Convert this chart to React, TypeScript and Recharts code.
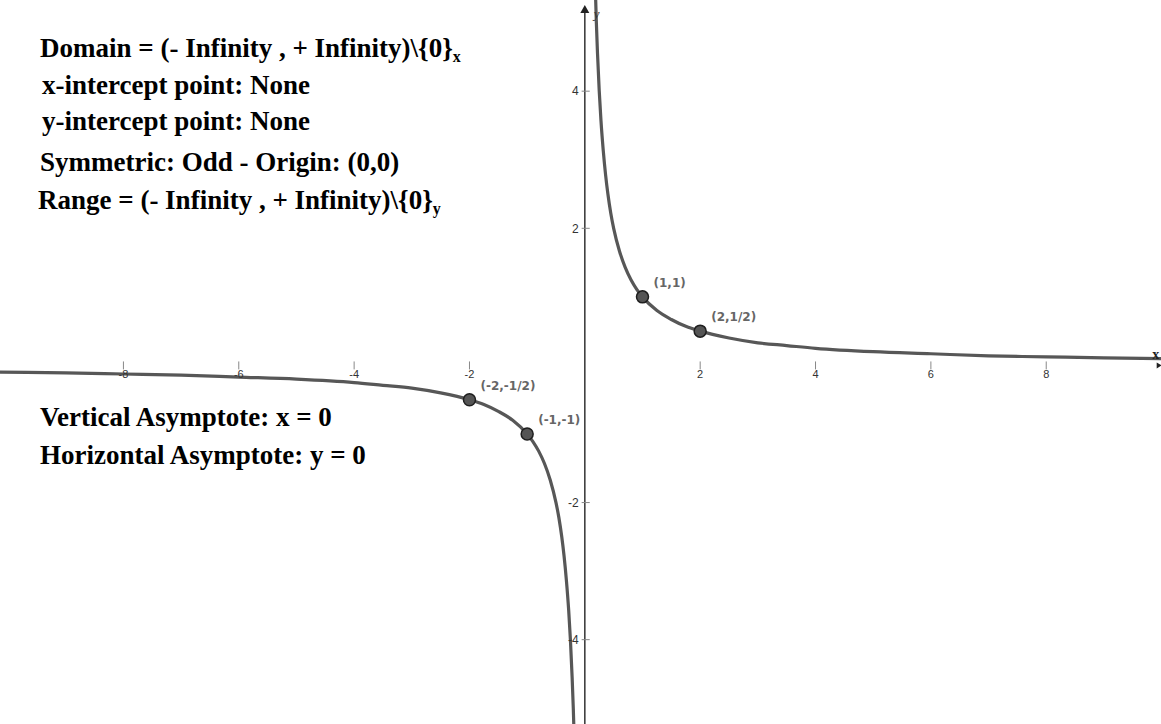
import React from "react";
import { ComposedChart, Line, XAxis, YAxis, ReferenceLine, ReferenceDot } from "recharts";

const rightX = [0.18, 0.2, 0.22, 0.25, 0.28, 0.32, 0.36, 0.4, 0.45, 0.5, 0.6, 0.7, 0.8, 0.9, 1, 1.25, 1.5, 1.75, 2, 2.5, 3, 3.5, 4, 5, 6, 7, 8, 9, 10];
const rightY = [5.56, 5, 4.55, 4, 3.57, 3.13, 2.78, 2.5, 2.22, 2, 1.67, 1.43, 1.25, 1.11, 1, 0.8, 0.67, 0.57, 0.5, 0.4, 0.33, 0.29, 0.25, 0.2, 0.17, 0.14, 0.125, 0.11, 0.1];
const leftX = [-10.2, -9, -8, -7, -6, -5, -4, -3.5, -3, -2.5, -2, -1.75, -1.5, -1.25, -1, -0.9, -0.8, -0.7, -0.6, -0.5, -0.45, -0.4, -0.36, -0.32, -0.28, -0.25, -0.22, -0.2, -0.18];
const leftY = [-0.098, -0.11, -0.125, -0.14, -0.17, -0.2, -0.25, -0.29, -0.33, -0.4, -0.5, -0.57, -0.67, -0.8, -1, -1.11, -1.25, -1.43, -1.67, -2, -2.22, -2.5, -2.78, -3.13, -3.57, -4, -4.55, -5, -5.56];

const markX = [1, 2, -2, -1];
const markY = [1, 0.5, -0.5, -1];
const markLabels = ["(1,1)", "(2,1/2)", "(-2,-1/2)", "(-1,-1)"];

const xTicks = [-8, -6, -4, -2, 2, 4, 6, 8];
const yTicks = [-4, -2, 2, 4];

const xDomain: [number, number] = [-10.14, 9.99];
const yDomain: [number, number] = [-5.23, 5.33];

const notes = [
  "x-intercept point: None",
  "y-intercept point: None",
  "Symmetric: Odd - Origin: (0,0)",
];

const rightBranch = rightX.map((x, i) => ({ x, y: rightY[i] }));
const leftBranch = leftX.map((x, i) => ({ x, y: leftY[i] }));

const W = 1161;
const H = 724;
const CURVE = "#575757";
const serif = "'Liberation Serif', 'Times New Roman', serif";

const PointLabel = ({ viewBox, value }: any) => {
  const cx = viewBox.x + viewBox.width / 2;
  const cy = viewBox.y + viewBox.height / 2;
  return (
    <text x={cx + 11} y={cy - 10} fill="#666" fontSize={12} fontWeight="bold" fontFamily="'DejaVu Sans', sans-serif">
      {value}
    </text>
  );
};

const YArrow = ({ cx, cy }: any) => (
  <g>
    <path d={`M${cx},${cy - 4} L${cx - 4.5},${cy + 4} L${cx + 4.5},${cy + 4} Z`} fill="#222" />
    <text x={cx + 9} y={cy + 9} fontSize={13} fontStyle="italic" fontFamily={serif} fill="#333">y</text>
  </g>
);

const XArrow = ({ cx, cy }: any) => (
  <g>
    <path d={`M${cx + 3},${cy} L${cx - 2},${cy - 3} L${cx - 2},${cy + 3} Z`} fill="#222" />
    <text x={cx - 3} y={cy - 6} fontSize={14} fontWeight="bold" textAnchor="middle" fontFamily={serif} fill="#222">x</text>
  </g>
);

export default function App() {
  return (
    <div style={{ position: "absolute", left: 0, top: 0, width: W, height: H, background: "#fff" }}>
      <ComposedChart width={W} height={H} margin={{ top: 0, right: 0, bottom: 0, left: 0 }}>
        <XAxis type="number" dataKey="x" domain={xDomain} allowDataOverflow hide />
        <YAxis type="number" dataKey="y" domain={yDomain} allowDataOverflow hide />

        {/* vertical axis with ticks */}
        <ReferenceLine
          segment={[{ x: 0, y: yDomain[0] }, { x: 0, y: 5.2 }]}
          stroke="#333"
          strokeWidth={1.5}
        />
        {yTicks.map((t) => (
          <ReferenceLine
            key={`yt${t}`}
            segment={[{ x: -0.055, y: t }, { x: 0.085, y: t }]}
            stroke="#888"
            strokeWidth={1}
            label={{ value: String(t), position: "left", offset: 3, fill: "#333", fontSize: 12, fontFamily: "'Liberation Sans', sans-serif" }}
          />
        ))}
        {xTicks.map((t) => (
          <ReferenceLine
            key={`xt${t}`}
            segment={[{ x: t, y: -0.058 }, { x: t, y: 0.058 }]}
            stroke="#888"
            strokeWidth={1}
            label={{ value: String(t), position: "bottom", offset: 1, fill: "#333", fontSize: 11, fontFamily: "'Liberation Sans', sans-serif" }}
          />
        ))}
        <ReferenceDot x={0} y={5.2} r={0} shape={<YArrow />} />
        <ReferenceDot x={9.95} y={0} r={0} shape={<XArrow />} />

        <Line data={rightBranch} dataKey="y" type="monotone" stroke={CURVE} strokeWidth={3.2} dot={false} isAnimationActive={false} />
        <Line data={leftBranch} dataKey="y" type="monotone" stroke={CURVE} strokeWidth={3.2} dot={false} isAnimationActive={false} />

        {markX.map((x, i) => (
          <ReferenceDot
            key={markLabels[i]}
            x={x}
            y={markY[i]}
            r={6}
            fill="#555"
            stroke="#1e1e1e"
            strokeWidth={1.5}
            label={<PointLabel value={markLabels[i]} />}
          />
        ))}
      </ComposedChart>

      <svg width={W} height={H} style={{ position: "absolute", left: 0, top: 0, pointerEvents: "none" }}>
        <g fontFamily={serif} fontWeight="bold" fontSize={27} fill="#000">
          <text x={40} y={57}>
            Domain = (- Infinity , + Infinity)\{"{0}"}
            <tspan fontSize={16} dy={5}>x</tspan>
          </text>
          {notes.map((n, i) => (
            <text key={n} x={i === 2 ? 40 : 42} y={[94, 130, 171][i]}>{n}</text>
          ))}
          <text x={38} y={209}>
            Range = (- Infinity , + Infinity)\{"{0}"}
            <tspan fontSize={16} dy={5}>y</tspan>
          </text>
          <text x={40} y={426}>Vertical Asymptote: x = 0</text>
          <text x={40} y={464}>Horizontal Asymptote: y = 0</text>
        </g>
      </svg>
    </div>
  );
}
